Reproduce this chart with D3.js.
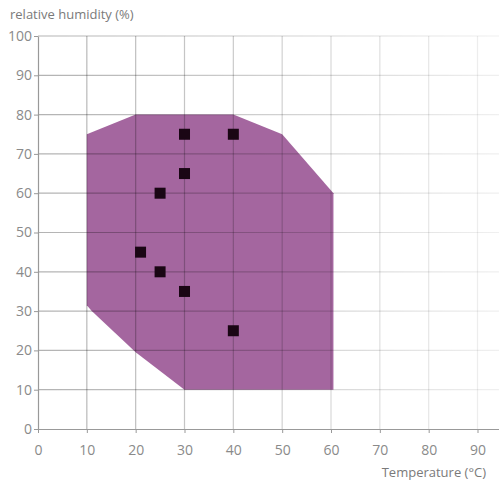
<!DOCTYPE html>
<html>
<head>
<meta charset="utf-8">
<script src="https://d3js.org/d3.v7.min.js"></script>
<style>
    body { margin: 0; background: #fff; }
    text { font-family: "Open Sans", sans-serif; }
</style>
</head>
<body>
<svg id="chart" width="499" height="490"></svg>
<script>
// operating range (temperature, humidity) outline
const rangeTemp = [10, 20, 40, 50, 60.5, 60.5, 30, 20, 11, 10];
const rangeHum  = [75, 80, 80, 75, 60, 10, 10, 19.5, 30, 31.5];

// test points
const pointTemp = [30, 40, 30, 25, 21, 25, 30, 40];
const pointHum  = [75, 75, 65, 60, 45, 40, 35, 25];

const xTicks = [0, 10, 20, 30, 40, 50, 60, 70, 80, 90];
const yTicks = [0, 10, 20, 30, 40, 50, 60, 70, 80, 90, 100];

const svg = d3.select("#chart");
const plotLeft = 38, plotTop = 36, plotBottom = 429, plotRight = 499;

const x = d3.scaleLinear().domain([0, 94.4]).range([plotLeft, plotRight]);
const y = d3.scaleLinear().domain([0, 100]).range([plotBottom, plotTop]);

// grid fades out to the right
const defs = svg.append("defs");
const grad = defs.append("linearGradient")
    .attr("id", "gridFade")
    .attr("gradientUnits", "userSpaceOnUse")
    .attr("x1", plotLeft).attr("x2", plotRight).attr("y1", 0).attr("y2", 0);
grad.append("stop").attr("offset", "0%").attr("stop-color", "#000").attr("stop-opacity", 0.3);
grad.append("stop").attr("offset", "45%").attr("stop-color", "#000").attr("stop-opacity", 0.2);
grad.append("stop").attr("offset", "100%").attr("stop-color", "#000").attr("stop-opacity", 0.06);

// range polygon
const poly = rangeTemp.map((t, i) => [x(t), y(rangeHum[i])]);
svg.append("path")
    .attr("d", d3.line()(poly) + "Z")
    .attr("fill", "#a4669f");

// grid on top of the area
const grid = svg.append("g");
grid.selectAll(".vg").data(xTicks.filter(d => d > 0)).enter()
    .append("line")
    .attr("x1", d => x(d)).attr("x2", d => x(d))
    .attr("y1", plotTop).attr("y2", plotBottom)
    .attr("stroke", "url(#gridFade)")
    .attr("stroke-width", 1.2);
grid.selectAll(".hg").data(yTicks.filter(d => d > 0)).enter()
    .append("line")
    .attr("x1", plotLeft).attr("x2", plotRight)
    .attr("y1", d => y(d)).attr("y2", d => y(d))
    .attr("stroke", "url(#gridFade)")
    .attr("stroke-width", 1.2);

// points
const sq = 11;
svg.append("g").selectAll("rect").data(pointTemp).enter()
    .append("rect")
    .attr("x", (d, i) => x(d) - sq / 2)
    .attr("y", (d, i) => y(pointHum[i]) - sq / 2)
    .attr("width", sq).attr("height", sq)
    .attr("fill", "#1a0614");

// axes
const xAxis = svg.append("g")
    .attr("transform", "translate(0," + plotBottom + ")")
    .call(d3.axisBottom(x).tickValues(xTicks).tickSize(4).tickPadding(12).tickSizeOuter(0));
const yAxis = svg.append("g")
    .attr("transform", "translate(" + plotLeft + ",0)")
    .call(d3.axisLeft(y).tickValues(yTicks).tickSize(4).tickPadding(2).tickSizeOuter(0));

[xAxis, yAxis].forEach(a => {
    a.select(".domain").attr("stroke", "#999").attr("stroke-width", 1.2);
    a.selectAll(".tick line").attr("stroke", "#999");
    a.selectAll(".tick text").attr("fill", "#8a8a8a").style("font-size", "14px");
});

// axis titles
svg.append("text")
    .attr("x", 10).attr("y", 19)
    .attr("fill", "#7a7a7a")
    .style("font-size", "13px")
    .text("relative humidity (%)");
svg.append("text")
    .attr("x", 486).attr("y", 477)
    .attr("text-anchor", "end")
    .attr("fill", "#7a7a7a")
    .style("font-size", "13px")
    .text("Temperature (°C)");
</script>
</body>
</html>
